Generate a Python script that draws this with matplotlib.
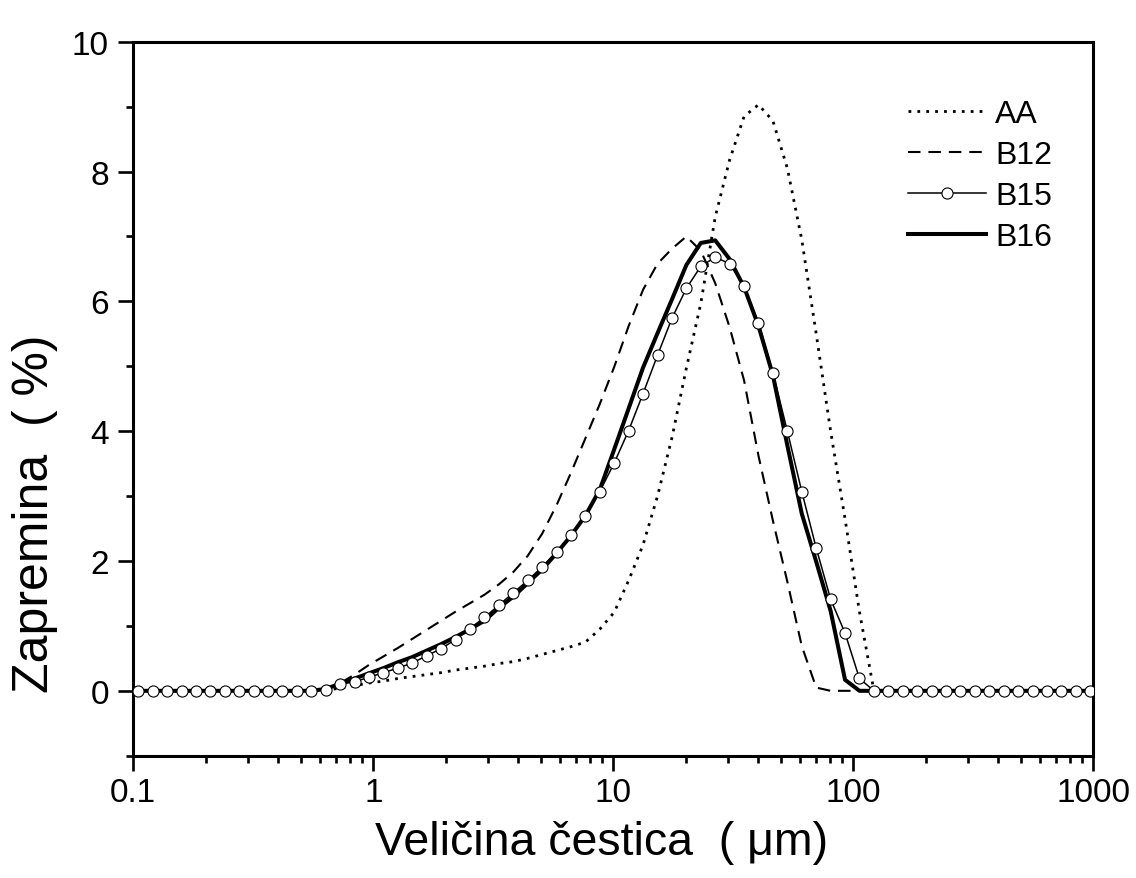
import matplotlib
matplotlib.use("Agg")
import matplotlib.pyplot as plt
from matplotlib.ticker import FixedLocator, FixedFormatter, MultipleLocator, LogLocator, NullFormatter

plt.rcParams['font.family'] = ['Liberation Sans', 'DejaVu Sans']

# particle size grid (um)
size_um = [0.1049, 0.1205, 0.1384, 0.1589, 0.1825, 0.2096, 0.2406, 0.2764, 0.3174, 0.3645,
           0.4186, 0.4807, 0.5521, 0.6340, 0.7282, 0.8363, 0.9603, 1.103, 1.266, 1.454,
           1.670, 1.918, 2.203, 2.530, 2.905, 3.337, 3.832, 4.401, 5.054, 5.804,
           6.666, 7.655, 8.790, 10.09, 11.59, 13.31, 15.29, 17.56, 20.16, 23.16,
           26.59, 30.54, 35.08, 40.28, 46.26, 53.13, 61.01, 70.07, 80.47, 92.40,
           106.1, 121.9, 140.0, 160.7, 184.6, 212.0, 243.5, 279.6, 321.1, 368.8,
           423.5, 486.3, 558.5, 641.4, 736.6, 845.9, 971.4]

AA = [0, 0, 0, 0, 0, 0, 0, 0, 0, 0,
      0, 0, 0, 0.01, 0.04, 0.08, 0.12, 0.15, 0.19, 0.22,
      0.25, 0.28, 0.32, 0.35, 0.38, 0.42, 0.45, 0.50, 0.56, 0.62,
      0.68, 0.75, 0.95, 1.21, 1.70, 2.25, 3.00, 3.90, 4.97, 5.97,
      7.30, 8.18, 8.85, 9.03, 8.78, 8.05, 6.95, 5.50, 4.00, 2.65,
      1.22, 0, 0, 0, 0, 0, 0, 0, 0, 0,
      0, 0, 0, 0, 0, 0, 0]

B12 = [0, 0, 0, 0, 0, 0, 0, 0, 0, 0,
       0, 0, 0, 0.03, 0.12, 0.25, 0.40, 0.53, 0.66, 0.80,
       0.94, 1.08, 1.22, 1.35, 1.48, 1.64, 1.83, 2.08, 2.42, 2.86,
       3.36, 3.89, 4.42, 4.99, 5.62, 6.18, 6.58, 6.81, 7.00, 6.78,
       6.28, 5.60, 4.78, 3.62, 2.62, 1.68, 0.69, 0.05, 0, 0,
       0, 0, 0, 0, 0, 0, 0, 0, 0, 0,
       0, 0, 0, 0, 0, 0, 0]

B15 = [0, 0, 0, 0, 0, 0, 0, 0, 0, 0,
       0, 0, 0, 0.02, 0.10, 0.14, 0.21, 0.28, 0.35, 0.43,
       0.54, 0.65, 0.79, 0.96, 1.13, 1.32, 1.51, 1.70, 1.91, 2.14,
       2.40, 2.70, 3.07, 3.51, 4.01, 4.58, 5.17, 5.74, 6.20, 6.54,
       6.68, 6.58, 6.23, 5.67, 4.90, 4.00, 3.07, 2.20, 1.41, 0.89,
       0.19, 0, 0, 0, 0, 0, 0, 0, 0, 0,
       0, 0, 0, 0, 0, 0, 0]

B16 = [0, 0, 0, 0, 0, 0, 0, 0, 0, 0,
       0, 0, 0, 0.03, 0.11, 0.19, 0.27, 0.35, 0.44, 0.52,
       0.62, 0.72, 0.83, 0.95, 1.08, 1.28, 1.45, 1.66, 1.87, 2.12,
       2.39, 2.70, 3.10, 3.72, 4.35, 4.98, 5.51, 6.03, 6.56, 6.90,
       6.94, 6.65, 6.22, 5.62, 4.86, 3.78, 2.73, 1.99, 1.23, 0.17,
       0, 0, 0, 0, 0, 0, 0, 0, 0, 0,
       0, 0, 0, 0, 0, 0, 0]

x_ticks = [0.1, 1, 10, 100, 1000]
x_tick_labels = ["0.1", "1", "10", "100", "1000"]
y_ticks = [0, 2, 4, 6, 8, 10]
y_tick_labels = ["0", "2", "4", "6", "8", "10"]

fig = plt.figure(figsize=(11.36, 8.79), dpi=100)
ax = fig.add_axes([0.1173, 0.1391, 0.8451, 0.8123])

ax.plot(size_um, AA, color='black', lw=2.0, linestyle=(0, (1, 2.2)), label='AA', zorder=2)
ax.plot(size_um, B12, color='black', lw=1.5, linestyle=(0, (6, 3.8)), label='B12', zorder=2)
ax.plot(size_um, B16, color='black', lw=2.9, linestyle='-', label='B16', zorder=3)
ax.plot(size_um, B15, color='black', lw=1.1, linestyle='-', marker='o', markersize=8,
        markerfacecolor='white', markeredgecolor='black', markeredgewidth=0.8,
        label='B15', zorder=4)

ax.set_xscale('log')
ax.set_xlim(0.1, 1000)
ax.set_ylim(-1, 10)

ax.xaxis.set_major_locator(FixedLocator(x_ticks))
ax.xaxis.set_major_formatter(FixedFormatter(x_tick_labels))
ax.xaxis.set_minor_locator(LogLocator(base=10, subs=[2, 3, 4, 5, 6, 7, 8, 9]))
ax.xaxis.set_minor_formatter(NullFormatter())
ax.yaxis.set_major_locator(FixedLocator(y_ticks))
ax.yaxis.set_major_formatter(FixedFormatter(y_tick_labels))
ax.yaxis.set_minor_locator(MultipleLocator(1))

for s in ax.spines.values():
    s.set_linewidth(2.2)
ax.tick_params(which='major', direction='out', length=10.5, width=1.9, labelsize=24)
ax.tick_params(which='minor', direction='out', length=5, width=1.9)
ax.tick_params(axis='x', which='major', pad=4.5)
ax.tick_params(axis='y', which='major', pad=7)
ax.tick_params(top=False, right=False, which='both')

ax.set_xlabel("Veličina čestica  ( μm)", fontsize=33.5)
ax.set_ylabel("Zapremina  ( %)", fontsize=36)
ax.xaxis.set_label_coords(0.488, -0.090)
ax.yaxis.set_label_coords(-0.078, 0.34)

handles, labels = ax.get_legend_handles_labels()
order = [labels.index(l) for l in ['AA', 'B12', 'B15', 'B16']]
ax.legend([handles[i] for i in order], [labels[i] for i in order],
          loc='upper left', bbox_to_anchor=(0.807, 0.920), frameon=False,
          fontsize=23, handlelength=2.44, handletextpad=0.28, labelspacing=0.35,
          borderpad=0, borderaxespad=0)

fig.savefig('out.png', dpi=100)
